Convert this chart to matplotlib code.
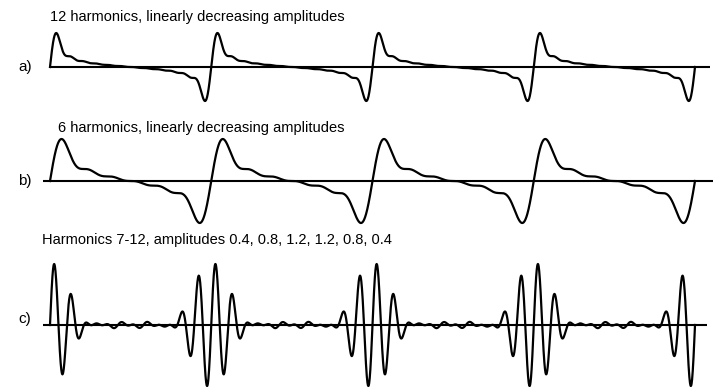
import matplotlib
matplotlib.use('Agg')
import matplotlib.pyplot as plt
import numpy as np

# harmonic numbers and amplitudes for each panel
harm_a = list(range(1, 13))
amp_a = [12, 11, 10, 9, 8, 7, 6, 5, 4, 3, 2, 1]
harm_b = list(range(1, 7))
amp_b = [6, 5, 4, 3, 2, 1]
harm_c = [7, 8, 9, 10, 11, 12]
amp_c = [0.4, 0.8, 1.2, 1.2, 0.8, 0.4]

titles = ['12 harmonics, linearly decreasing amplitudes',
          '6 harmonics, linearly decreasing amplitudes',
          'Harmonics 7-12, amplitudes 0.4, 0.8, 1.2, 1.2, 0.8, 0.4']
labels = ['a)', 'b)', 'c)']
n_periods = 4

W, H = 715, 387
fig = plt.figure(figsize=(W / 100, H / 100), dpi=100)
plt.rcParams['font.family'] = 'Liberation Sans'

t = np.linspace(0, n_periods * 2 * np.pi, 4000)

def wave(harm, amp):
    y = np.zeros_like(t)
    for n, a in zip(harm, amp):
        y += a * np.sin(n * t)
    return y

# layout in pixels: (baseline y, half height of peak, line start, line end)
panels = [
    (harm_a, amp_a, 67, 34, 50, 710),
    (harm_b, amp_b, 181, 42, 43, 713),
    (harm_c, amp_c, 325, 61, 43, 707),
]
x0_px, x1_px = 50, 695
ppr = (x1_px - x0_px) / (n_periods * 2 * np.pi)

for harm, amp, yb, half, ls, le in panels:
    y = wave(harm, amp)
    m = np.abs(y).max()
    pad = 1.15
    h = half * pad
    ax = fig.add_axes([0, 1 - (yb + h) / H, 1, 2 * h / H])
    ax.set_xlim(-x0_px / ppr, (W - x0_px) / ppr)
    ax.set_ylim(-m * pad, m * pad)
    ax.axis('off')
    ax.hlines(0, (ls - x0_px) / ppr, (le - x0_px) / ppr, color='black', lw=1.5)
    ax.plot(t, y, color='black', lw=1.6)

text_pos = [(50, 17), (58, 128), (42, 240)]
label_pos = [(18, 67), (18, 181), (18, 319)]
for (x, y), s in zip(text_pos, titles):
    fig.text(x / W, 1 - y / H, s, fontsize=10.5, va='center', ha='left')
for (x, y), s in zip(label_pos, labels):
    fig.text(x / W, 1 - y / H, s, fontsize=11, va='center', ha='left')

fig.savefig('out.png', dpi=100, facecolor='white')
